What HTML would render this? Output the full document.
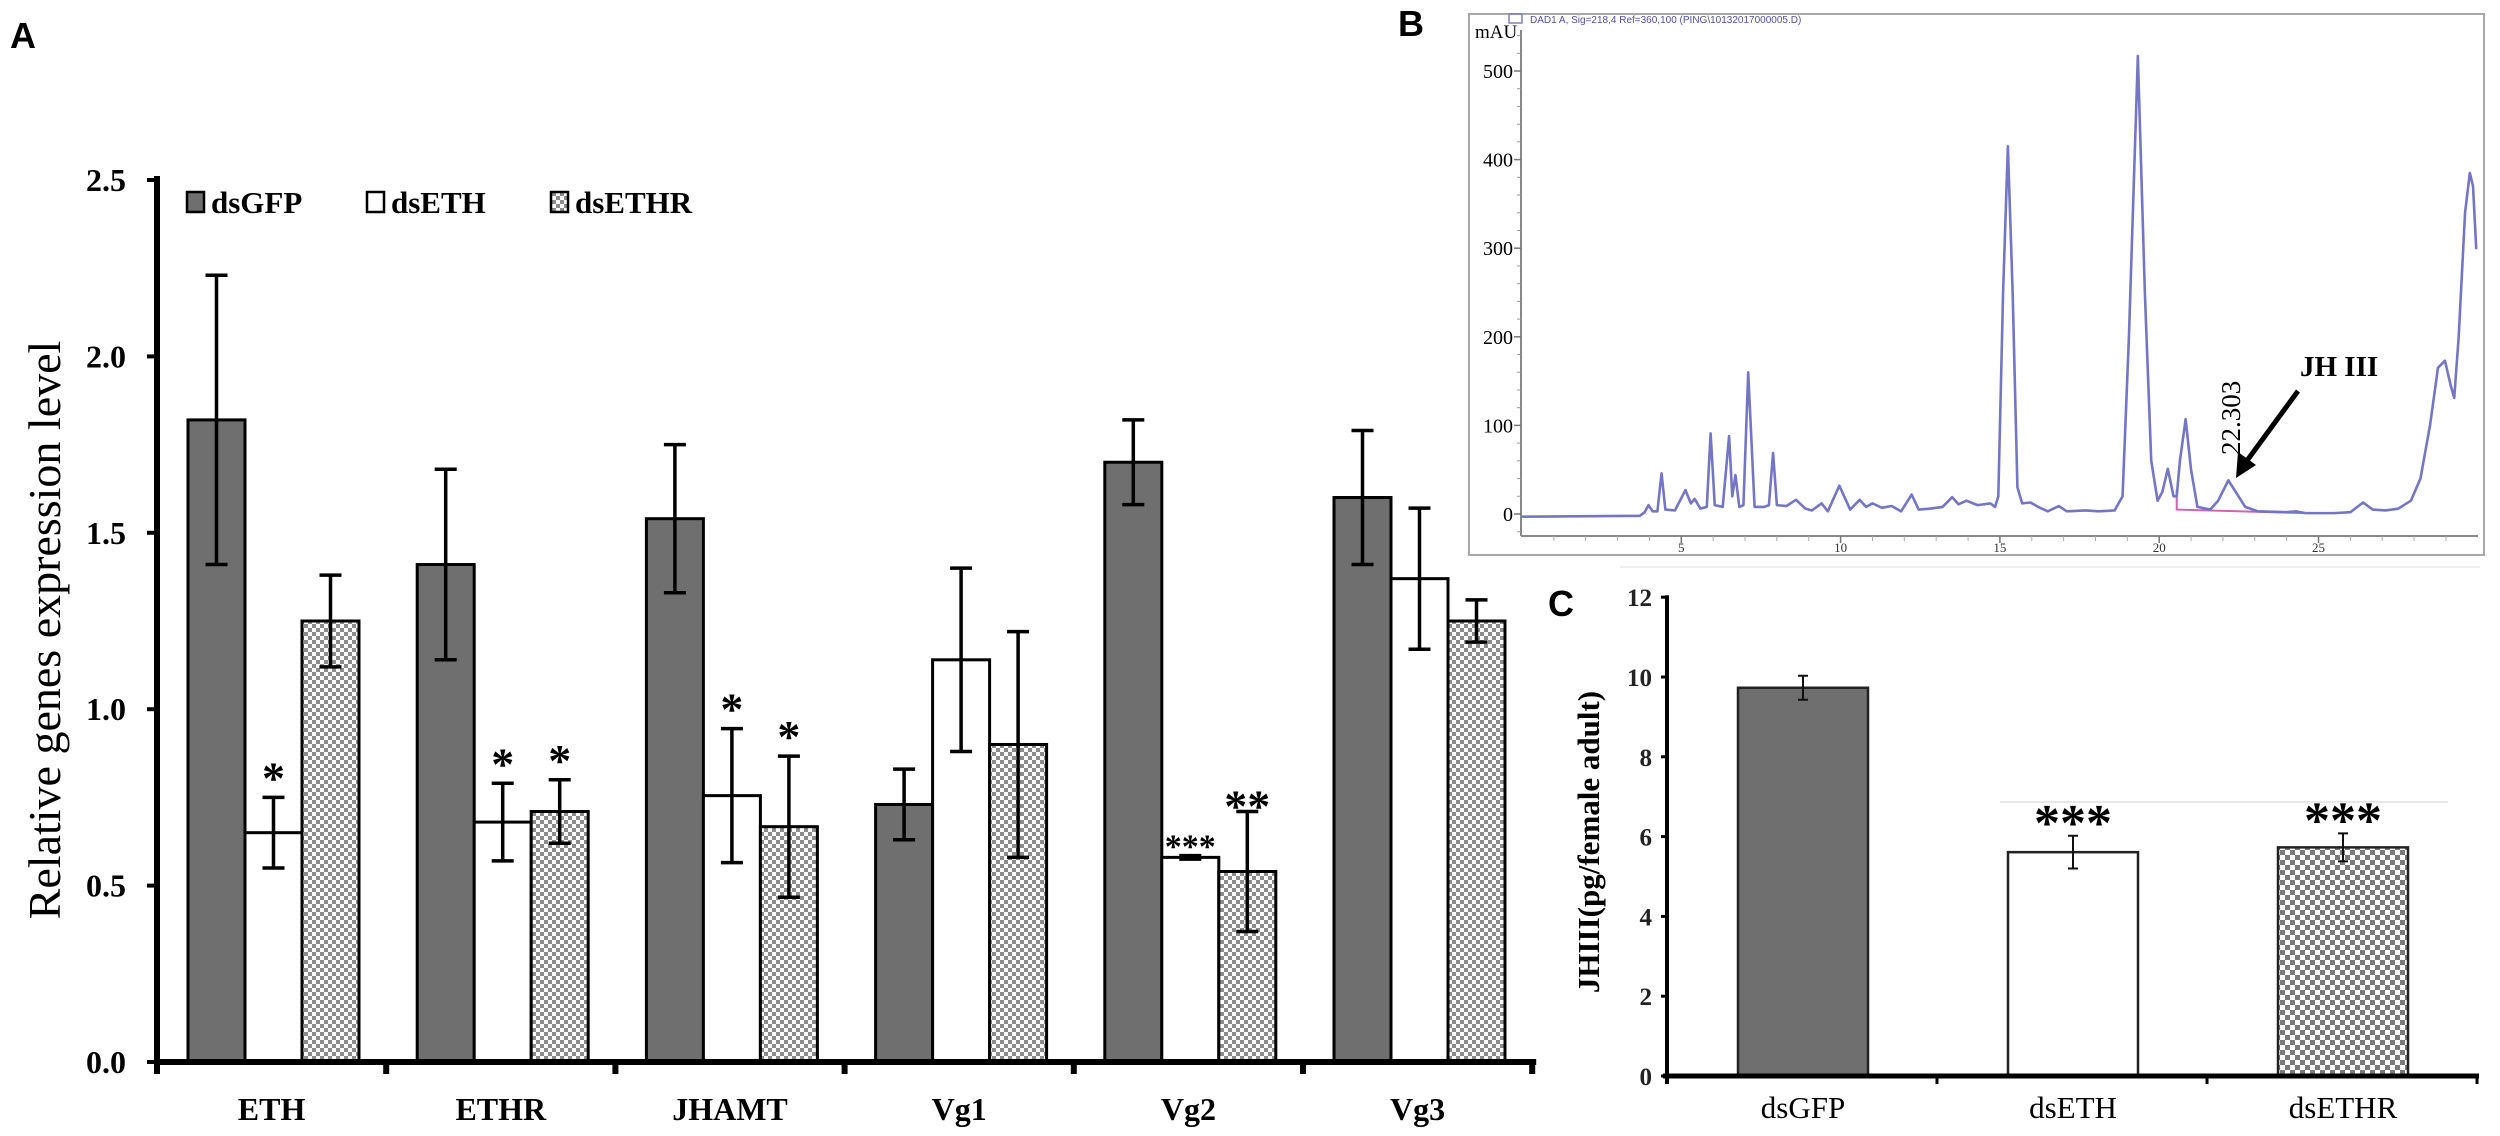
<!DOCTYPE html>
<html><head><meta charset="utf-8"><style>
html,body{margin:0;padding:0;background:#fff;}
svg{display:block;}
</style></head><body>
<svg id="fig" width="2500" height="1136" viewBox="0 0 2500 1136" xmlns="http://www.w3.org/2000/svg">
<defs>
<pattern id="chk" width="8" height="8" patternUnits="userSpaceOnUse">
<rect width="8" height="8" fill="#ffffff"/>
<rect width="4" height="4" fill="#8c8c8c"/>
<rect x="4" y="4" width="4" height="4" fill="#8c8c8c"/>
</pattern>
<pattern id="chk2" width="10" height="10" patternUnits="userSpaceOnUse">
<rect width="10" height="10" fill="#ffffff"/>
<rect width="5" height="5" fill="#7a7a7a"/>
<rect x="5" y="5" width="5" height="5" fill="#7a7a7a"/>
</pattern>
</defs>
<g id="panelA"></g>
<g id="panelB"></g>
<g id="panelC"></g>
</svg>
<script>
// ---------- Panel A data ----------
const genes = ['ETH','ETHR','JHAMT','Vg1','Vg2','Vg3'];
const gfpVals = [1.82,1.41,1.54,0.73,1.70,1.60];
const gfpErr = [0.41,0.27,0.21,0.10,0.12,0.19];
const ethVals = [0.65,0.68,0.755,1.14,0.58,1.37];
const ethErr = [0.10,0.11,0.19,0.26,0.005,0.20];
const ethrVals = [1.25,0.71,0.667,0.90,0.54,1.25];
const ethrErr = [0.13,0.09,0.20,0.32,0.17,0.06];
const sigEth = ['*','*','*','','***',''];
const sigEthr = ['','*','*','','**',''];
const yTicksA = ['0.0','0.5','1.0','1.5','2.0','2.5'];
const seriesNames = ['dsGFP','dsETH','dsETHR'];

// ---------- Panel B data (chromatogram points) ----------
const rtTimes = [0,3.7,3.85,3.97,4.1,4.25,4.38,4.5,4.8,5.13,5.3,5.42,5.6,5.8,5.92,6.05,6.3,6.5,6.6,6.7,6.82,6.95,7.1,7.3,7.6,7.75,7.88,8.0,8.3,8.6,8.9,9.1,9.4,9.6,9.96,10.3,10.6,10.8,11.0,11.3,11.6,11.9,12.23,12.45,12.8,13.2,13.5,13.7,13.95,14.3,14.7,14.85,14.95,15.1,15.25,15.4,15.55,15.7,15.96,16.2,16.5,16.85,17.1,17.7,18.1,18.6,18.85,19.05,19.33,19.55,19.75,19.95,20.1,20.27,20.45,20.55,20.65,20.83,21.0,21.2,21.6,21.85,22.17,22.4,22.7,23.1,24.0,24.3,24.6,25.5,26.0,26.4,26.7,27.1,27.5,27.9,28.2,28.5,28.75,28.97,29.15,29.26,29.4,29.6,29.75,29.85,29.95];
const mauVals = [-3,-2,2,10,3,3,46,5,4,27,12,17,6,8,91,10,8,88,20,44,8,10,160,8,8,10,69,10,9,16,6,4,12,3,32,5,16,8,12,7,9,3,22,5,6,8,19,11,15,10,12,8,20,250,415,250,30,12,13,8,3,9,3,4,3,4,20,200,517,250,60,15,25,51,20,20,60,107,50,8,5,15,38,25,8,3,2,3,1,1,2,13,5,4,6,15,40,100,165,173,145,131,200,340,385,370,300];
const baseTimes = [20.55,20.55,24.6];
const baseVals = [28,5,1];
const yTicksB = [0,100,200,300,400,500];
const xTicksB = [5,10,15,20,25];

// ---------- Panel C data ----------
const groupsC = ['dsGFP','dsETH','dsETHR'];
const jhVals = [9.73,5.61,5.73];
const jhErr = [0.3,0.41,0.35];
const sigC = ['','***','***'];
const yTicksC = [0,2,4,6,8,10,12];

const NS = 'http://www.w3.org/2000/svg';
function mk(parent, tag, attrs, text){
  const e = document.createElementNS(NS, tag);
  for (const k in attrs) e.setAttribute(k, attrs[k]);
  if (text !== undefined) e.textContent = text;
  parent.appendChild(e);
  return e;
}
const serif = '"Liberation Serif", serif';
const sans = '"Liberation Sans", sans-serif';

// ================= Panel A =================
(function(){
  const g = document.getElementById('panelA');
  const y0 = 1062, yPer = 352.8, xAxis = 157, gw = 229.2, bw = 57, off = 31;
  const yA = v => y0 - v * yPer;
  const xG = i => xAxis + i * gw;
  let t;
  t = mk(g,'text',{x:10,y:48,'font-family':sans,'font-weight':'bold','font-size':36,fill:'#000'},'A');
  
  
  t = mk(g,'text',{x:0,y:0,transform:'translate(60,630) rotate(-90)','text-anchor':'middle','font-family':serif,'font-size':46,fill:'#000'},'Relative genes expression level');
  
  
  yTicksA.forEach(lbl => {
    const v = parseFloat(lbl);
    const tk = mk(g,'line',{x1:xAxis-10,x2:xAxis,y1:yA(v),y2:yA(v),stroke:'#000','stroke-width':4});
    
    
    const tl = mk(g,'text',{x:126,y:yA(v)+11,'text-anchor':'end','font-family':serif,'font-weight':'bold','font-size':32,fill:'#000'},lbl);
    
    
  });
  const fills = ['#6f6f6f','#ffffff','url(#chk)'];
  const vals = [gfpVals, ethVals, ethrVals];
  const errs = [gfpErr, ethErr, ethrErr];
  const sigs = [null, sigEth, sigEthr];
  genes.forEach((gn,i) => {
    for (let j=0;j<3;j++){
      const x = xG(i) + off + j*bw;
      const v = vals[j][i];
      const r = mk(g,'rect',{x:x,y:yA(v),width:bw,height:y0-yA(v),fill:fills[j],stroke:'#000','stroke-width':3});
      
      
      const cx = x + bw/2, e = errs[j][i];
      const top = yA(v+e), bot = yA(v-e);
      const eb = mk(g,'path',{d:`M${cx},${top}V${bot}M${cx-11},${top}H${cx+11}M${cx-11},${bot}H${cx+11}`,stroke:'#000','stroke-width':3.5,fill:'none'});
      
      
      if (sigs[j] && sigs[j][i]){
        const s = sigs[j][i];
        const fs = s === '***' ? 34 : 46;
        const dy = s === '*' ? -4 : (s === '**' ? 10 : 2);
        const st = mk(g,'text',{x:cx,y:top + dy,'text-anchor':'middle','font-family':serif,'font-weight':'bold','font-size':fs,fill:'#000'},s);
        
        
      }
    }
    const xl = mk(g,'text',{x:xG(i)+gw/2,y:1120,'text-anchor':'middle','font-family':serif,'font-weight':'bold','font-size':32,fill:'#000'},gn);
    
    
  });
  for (let i=0;i<=6;i++){
    const tk = mk(g,'line',{x1:xG(i),x2:xG(i),y1:y0,y2:y0+12,stroke:'#000','stroke-width':6});
    
    
  }
  let ax = mk(g,'line',{x1:xAxis,x2:xAxis,y1:yA(2.5)-4,y2:y0+2,stroke:'#000','stroke-width':6});
  
  
  ax = mk(g,'line',{x1:xAxis-3,x2:xG(6)+4,y1:y0,y2:y0,stroke:'#000','stroke-width':6});
  
  
  const lx = [187,367,551];
  seriesNames.forEach((n,j) => {
    const lg = mk(g,'g',{});
    
    
    mk(lg,'rect',{x:lx[j],y:192,width:17,height:20,fill:j===2?'url(#chk)':fills[j],stroke:'#000','stroke-width':2.5});
    mk(lg,'text',{x:lx[j]+24,y:213,'font-family':serif,'font-weight':'bold','font-size':31,fill:'#000'},n);
  });
})();

// ================= Panel B =================
(function(){
  const g = document.getElementById('panelB');
  const x0 = 1522, xPer = 31.86, yz = 514, yPer = 0.886;
  const xB = t => x0 + t * xPer;
  const yB = v => yz - v * yPer;
  let t = mk(g,'text',{x:1398,y:36,'font-family':sans,'font-weight':'bold','font-size':36,fill:'#000'},'B');
  
  
  let fr = mk(g,'rect',{x:1469,y:14,width:1015,height:541,fill:'none',stroke:'#a8a8a8','stroke-width':2});
  
  
  let lg = mk(g,'g',{});
  
  
  mk(lg,'rect',{x:1509,y:14,width:13,height:9,fill:'none',stroke:'#8080c0','stroke-width':1.5});
  mk(lg,'text',{x:1530,y:23,'font-family':sans,'font-size':10,fill:'#5050a0'},'DAD1 A, Sig=218,4 Ref=360,100 (PING\\10132017000005.D)');
  t = mk(g,'text',{x:1475,y:38,'font-family':serif,'font-size':19,fill:'#000'},'mAU');
  
  
  let ax = mk(g,'line',{x1:1521,x2:1521,y1:30,y2:536,stroke:'#888','stroke-width':2});
  
  
  ax = mk(g,'line',{x1:1521,x2:2478,y1:536,y2:536,stroke:'#888','stroke-width':2});
  
  
  for (let v=-20; v<=540; v+=20){
    mk(g,'line',{x1:1517,x2:1521,y1:yB(v),y2:yB(v),stroke:'#999','stroke-width':1});
  }
  yTicksB.forEach(v => {
    mk(g,'line',{x1:1514,x2:1521,y1:yB(v),y2:yB(v),stroke:'#777','stroke-width':1.5});
    const tl = mk(g,'text',{x:1513,y:yB(v)+7,'text-anchor':'end','font-family':serif,'font-size':20,fill:'#000'},String(v));
    
    
  });
  for (let m=1; m<30; m++){
    mk(g,'line',{x1:xB(m),x2:xB(m),y1:536,y2:541,stroke:'#aaa','stroke-width':1});
  }
  xTicksB.forEach(v => {
    mk(g,'line',{x1:xB(v),x2:xB(v),y1:536,y2:543,stroke:'#777','stroke-width':1.5});
    const tl = mk(g,'text',{x:xB(v),y:552,'text-anchor':'middle','font-family':serif,'font-size':13,fill:'#333'},String(v));
    
    
  });
  const bl = mk(g,'polyline',{points:baseTimes.map((tt,i)=>xB(tt)+','+yB(baseVals[i])).join(' '),fill:'none',stroke:'#d060b0','stroke-width':2});
  
  
  const ln = mk(g,'polyline',{points:rtTimes.map((tt,i)=>xB(tt)+','+yB(mauVals[i])).join(' '),fill:'none',stroke:'#7476c4','stroke-width':2.6,'stroke-linejoin':'round','stroke-linecap':'round'});
  
  
  t = mk(g,'text',{x:0,y:0,transform:'translate(2240,455) rotate(-90)','font-family':serif,'font-size':27,fill:'#000'},'22.303');
  
  
  t = mk(g,'text',{x:2300,y:376,'font-family':serif,'font-weight':'bold','font-size':29,fill:'#000'},'JH III');
  
  
  const ar = mk(g,'g',{});
  
  
  mk(ar,'line',{x1:2298,y1:391,x2:2246,y2:462,stroke:'#000','stroke-width':5});
  mk(ar,'polygon',{points:'2236,478 2238,452 2256,465',fill:'#000'});
})();

// ================= Panel C =================
(function(){
  const g = document.getElementById('panelC');
  const y0 = 1076, yPer = 39.9, xAxis = 1667, gw = 270, bw = 130, off = 71;
  const yC = v => y0 - v * yPer;
  const xG = i => xAxis + i * gw;
  let t = mk(g,'text',{x:1548,y:616,'font-family':sans,'font-weight':'bold','font-size':36,fill:'#000'},'C');
  
  
  mk(g,'line',{x1:1620,x2:2480,y1:567,y2:567,stroke:'#eee','stroke-width':2});
  mk(g,'line',{x1:2000,x2:2448,y1:802,y2:802,stroke:'#e8e8e8','stroke-width':2});
  t = mk(g,'text',{x:0,y:0,transform:'translate(1599,842) rotate(-90)','text-anchor':'middle','font-family':serif,'font-weight':'bold','font-size':31,fill:'#000'},'JHIII(pg/female adult)');
  
  
  yTicksC.forEach(v => {
    mk(g,'line',{x1:xAxis-6,x2:xAxis,y1:yC(v),y2:yC(v),stroke:'#000','stroke-width':3});
    const tl = mk(g,'text',{x:1652,y:yC(v)+9,'text-anchor':'end','font-family':serif,'font-weight':'bold','font-size':25,fill:'#222'},String(v));
    
    
  });
  const fills = ['#6f6f6f','#ffffff','url(#chk2)'];
  groupsC.forEach((n,i) => {
    const x = xG(i) + off, v = jhVals[i];
    const r = mk(g,'rect',{x:x,y:yC(v),width:bw,height:y0-yC(v),fill:fills[i],stroke:'#222','stroke-width':2.5});
    
    
    const cx = x + bw/2, top = yC(v+jhErr[i]), bot = yC(v-jhErr[i]);
    const eb = mk(g,'path',{d:`M${cx},${top}V${bot}M${cx-5},${top}H${cx+5}M${cx-5},${bot}H${cx+5}`,stroke:'#111','stroke-width':2,fill:'none'});
    
    
    if (sigC[i]){
      const st = mk(g,'text',{x:cx,y:top+4,'text-anchor':'middle','font-family':serif,'font-weight':'bold','font-size':52,fill:'#000'},sigC[i]);
      
      
    }
    const xl = mk(g,'text',{x:cx,y:1118,'text-anchor':'middle','font-family':serif,'font-size':31,fill:'#000'},n);
    
    
  });
  for (let i=1;i<=3;i++){
    mk(g,'line',{x1:xG(i),x2:xG(i),y1:y0,y2:y0+8,stroke:'#000','stroke-width':3});
  }
  let ax = mk(g,'line',{x1:xAxis,x2:xAxis,y1:yC(12)-2,y2:y0+8,stroke:'#000','stroke-width':4});
  
  
  ax = mk(g,'line',{x1:xAxis-4,x2:xG(3)+2,y1:y0,y2:y0,stroke:'#000','stroke-width':5});
  
  
})();
</script>
</body></html>
